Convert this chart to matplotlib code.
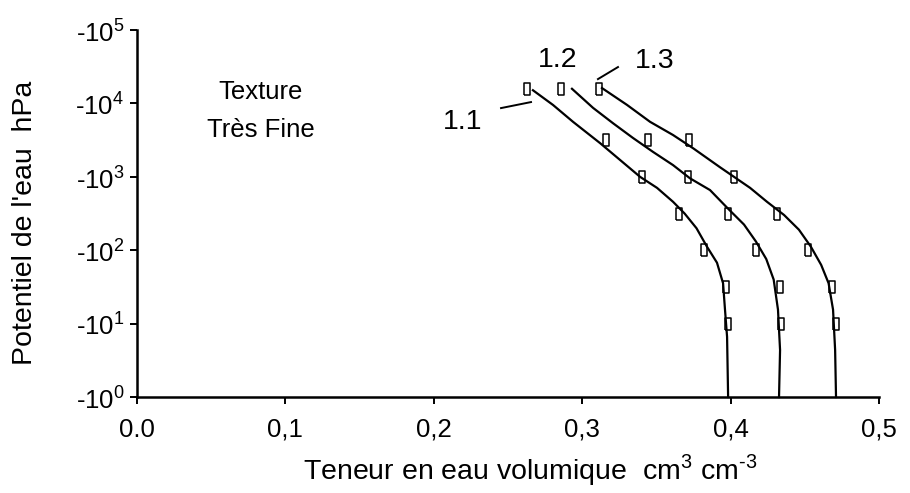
import numpy as np
import matplotlib
matplotlib.use("Agg")
import matplotlib.pyplot as plt
from matplotlib.ticker import FixedLocator, FuncFormatter, NullLocator

plt.rcParams['font.family'] = ['Liberation Sans', 'DejaVu Sans']
plt.rcParams['mathtext.fontset'] = 'custom'
plt.rcParams['mathtext.rm'] = 'Liberation Sans'

# measured points (pF = log10 of suction in hPa)
pf_points = [1.0, 1.5, 2.0, 2.5, 3.0, 3.5, 4.2]
theta_11 = [0.398, 0.397, 0.382, 0.365, 0.340, 0.316, 0.263]
theta_12 = [0.434, 0.433, 0.417, 0.398, 0.371, 0.344, 0.286]
theta_13 = [0.471, 0.468, 0.452, 0.431, 0.402, 0.372, 0.311]

# fitted curves
curve_11_theta = [0.2668, 0.2803, 0.2938, 0.3120, 0.3255, 0.3390, 0.3504, 0.3612,
                  0.3690, 0.3770, 0.3840, 0.3908, 0.3949, 0.3962, 0.3976, 0.3983]
curve_11_pf = [4.18, 3.98, 3.75, 3.46, 3.23, 3.00, 2.85, 2.66,
               2.50, 2.30, 2.05, 1.83, 1.55, 1.19, 0.82, 0.0]
curve_12_theta = [0.2931, 0.3073, 0.3208, 0.3342, 0.3477, 0.3612, 0.3726, 0.3861,
                  0.3976, 0.4090, 0.4170, 0.4240, 0.4290, 0.4319, 0.4333, 0.4326]
curve_12_pf = [4.20, 3.94, 3.73, 3.53, 3.34, 3.16, 2.98, 2.82,
               2.58, 2.35, 2.12, 1.88, 1.60, 1.19, 0.64, 0.0]
curve_13_theta = [0.3133, 0.3302, 0.3457, 0.3612, 0.3747, 0.3929, 0.4131, 0.4245,
                  0.4360, 0.4460, 0.4540, 0.4610, 0.4660, 0.4690, 0.4704, 0.4710]
curve_13_pf = [4.21, 3.98, 3.75, 3.57, 3.39, 3.13, 2.85, 2.66,
               2.48, 2.28, 2.05, 1.80, 1.55, 1.19, 0.64, 0.0]

x_ticks = [0.0, 0.1, 0.2, 0.3, 0.4, 0.5]
x_labels = ['0.0', '0,1', '0,2', '0,3', '0,4', '0,5']
y_decades = [0, 1, 2, 3, 4, 5]

fig = plt.figure(figsize=(9.10, 4.93), dpi=100)
ax = fig.add_axes([0.1505, 0.1947, 0.8155, 0.7443])

rect = [(-0.55, -1), (0.55, -1), (0.55, 1), (-0.55, 1), (-0.55, -1)]
h_points = [10 ** p for p in pf_points]

for th, pfs in [(curve_11_theta, curve_11_pf), (curve_12_theta, curve_12_pf),
                (curve_13_theta, curve_13_pf)]:
    ax.plot(th, [10 ** p for p in pfs], color='black', lw=1.6, clip_on=False)

for th in [theta_11, theta_12, theta_13]:
    ax.plot(th, h_points, ls='none', marker=rect, ms=9, mfc='none',
            mec='black', mew=1.1)

ax.set_yscale('log')
ax.set_xlim(0, 0.5)
ax.set_ylim(1, 1e5)

ax.xaxis.set_major_locator(FixedLocator(x_ticks))
ax.set_xticklabels(x_labels)
ax.yaxis.set_major_locator(FixedLocator([10 ** d for d in y_decades]))
ax.yaxis.set_minor_locator(NullLocator())
ax.yaxis.set_major_formatter(FuncFormatter(
    lambda v, pos: r'-10$^\mathregular{%d}$' % round(np.log10(v))))

ax.tick_params(axis='both', direction='out', length=5, width=1.4,
               labelsize=18.5, colors='black')
ax.tick_params(axis='x', pad=10)
ax.tick_params(axis='y', pad=4)

for side in ['top', 'right']:
    ax.spines[side].set_visible(False)
for side in ['left', 'bottom']:
    ax.spines[side].set_linewidth(1.8)

fig.text(530 / 910, 1 - 470 / 493,
         'Teneur en eau volumique  cm$^\\mathregular{3}$ cm$^\\text{-3}$',
         fontsize=20.5, ha='center', va='center')
fig.text(25 / 910, 1 - 223 / 493, "Potentiel de l'eau  hPa", fontsize=20.5,
         rotation=90, ha='center', va='center')

# labels
ax.text(0.0836, 10 ** 4.155, 'Texture', fontsize=18.5, ha='center', va='center')
ax.text(0.0836, 10 ** 3.638, 'Très Fine', fontsize=18.5, ha='center', va='center')

ax.text(0.2197, 10 ** 3.747, '1.1', fontsize=20.5, ha='center', va='center')
ax.plot([0.2453, 0.2655], [10 ** 3.937, 10 ** 4.019], color='black', lw=1.4)
ax.text(0.2837, 10 ** 4.591, '1.2', fontsize=20.5, ha='center', va='center')
ax.text(0.3491, 10 ** 4.578, '1.3', fontsize=20.5, ha='center', va='center')
ax.plot([0.3106, 0.3241], [10 ** 4.332, 10 ** 4.496], color='black', lw=1.4)

fig.savefig('out.png', dpi=100)
